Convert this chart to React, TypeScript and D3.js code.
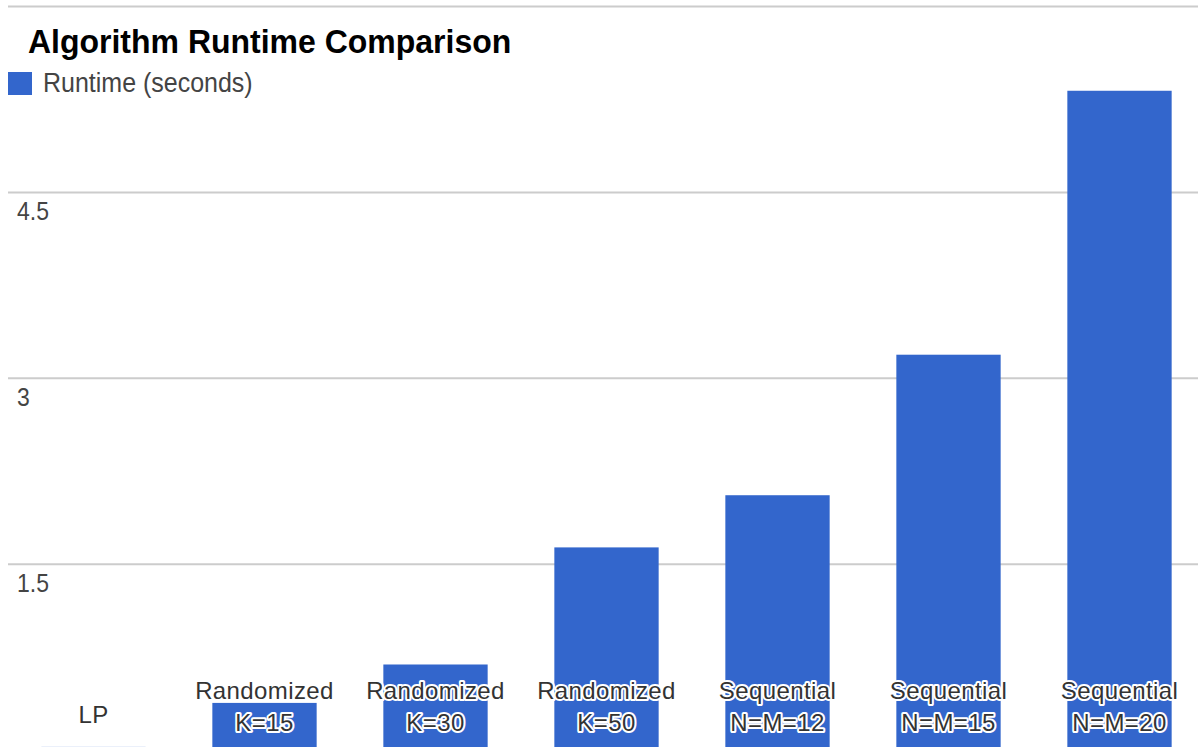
import React from "react";
import * as d3 from "d3";

const categories = [
  "LP",
  "Randomized K=15",
  "Randomized K=30",
  "Randomized K=50",
  "Sequential N=M=12",
  "Sequential N=M=15",
  "Sequential N=M=20",
];
const runtimes = [0.025, 0.38, 0.69, 1.635, 2.056, 3.19, 5.32];
const yTicks = [1.5, 3, 4.5, 6];
const seriesName = "Runtime (seconds)";
const title = "Algorithm Runtime Comparison";

const width = 1198;
const height = 747;
const barColor = "#3366cc";
const font = "Arial, 'Liberation Sans', sans-serif";

const App: React.FC = () => {
  const x = d3
    .scaleBand<string>()
    .domain(categories)
    .range([8, 1205])
    .paddingInner(0.39)
    .paddingOuter(0.195);
  const y = d3.scaleLinear().domain([0, 6]).range([750, 6.5]);

  return (
    <svg
      width={width}
      height={height}
      style={{ position: "absolute", left: 0, top: 0, background: "#fff" }}
      fontFamily={font}
    >
      {/* gridlines */}
      {yTicks.map((t) => (
        <line
          key={t}
          x1={8}
          x2={width}
          y1={y(t)}
          y2={y(t)}
          stroke="#cccccc"
          strokeWidth={2}
        />
      ))}
      {yTicks
        .filter((t) => t < 6)
        .map((t) => (
          <text
            key={t}
            x={17}
            y={y(t) + 28}
            fontSize={23}
            fill="#444"
            transform={`translate(0 ${y(t) + 28}) scale(1 1.1) translate(0 ${-(y(t) + 28)})`}
          >
            {String(t)}
          </text>
        ))}

      {/* bars */}
      {categories.map((c, i) => (
        <rect
          key={c}
          x={x(c)}
          y={y(runtimes[i])}
          width={x.bandwidth()}
          height={y(0) - y(runtimes[i])}
          fill={barColor}
        />
      ))}

      {/* category labels */}
      {categories.map((c) => {
        const parts = c.split(" ");
        const cx = (x(c) || 0) + x.bandwidth() / 2;
        const common = {
          x: cx,
          textAnchor: "middle" as const,
          fontSize: 24,
          letterSpacing: 0.4,
          fill: "#333",
          stroke: "#fff",
          strokeWidth: 4,
          strokeLinejoin: "round" as const,
          paintOrder: "stroke",
        };
        if (parts.length === 1) {
          return (
            <text key={c} y={723} {...common}>
              {parts[0]}
            </text>
          );
        }
        return (
          <g key={c}>
            <text y={699} {...common}>
              {parts[0]}
            </text>
            <text y={731} {...common}>
              {parts[1]}
            </text>
          </g>
        );
      })}

      {/* title + legend */}
      <text
        x={28}
        y={53}
        fontSize={32}
        fontWeight="bold"
        fill="#000"
        transform="translate(0 53) scale(1 1.04) translate(0 -53)"
      >
        {title}
      </text>
      <rect x={8} y={72} width={24} height={23} fill={barColor} />
      <text
        x={43}
        y={92}
        fontSize={25}
        fill="#444"
        transform="translate(0 92) scale(1 1.08) translate(0 -92)"
      >
        {seriesName}
      </text>
    </svg>
  );
};

export default App;
